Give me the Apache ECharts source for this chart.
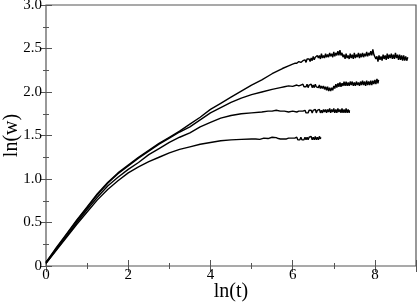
<!DOCTYPE html>
<html>
<head>
<meta charset="utf-8">
<script src="https://cdn.jsdelivr.net/npm/echarts@6/dist/echarts.min.js"></script>
<style>html,body{margin:0;padding:0;background:#fff}#c{width:418px;height:304px}</style>
</head>
<body>
<div id="c"></div>
<script>
// x = ln(t), y = ln(w)
const xTicks = [0, 2, 4, 6, 8];
const yTicks = [0, 0.5, 1.0, 1.5, 2.0, 2.5, 3.0];

const curveA = [
  [0,0.04],[0.25,0.21],[0.5,0.37],[0.75,0.53],[1,0.68],[1.25,0.83],[1.5,0.96],[1.75,1.07],
  [2,1.16],[2.25,1.25],[2.5,1.33],[2.75,1.41],[3,1.48],[3.25,1.55],[3.5,1.63],[3.75,1.71],
  [4,1.8],[4.25,1.87],[4.5,1.94],[4.75,2.01],[5,2.08],[5.25,2.14],[5.5,2.21],[5.75,2.27],
  [5.9,2.3],[6.0,2.32],[6.05,2.33],[6.1,2.33],[6.15,2.35],[6.2,2.34],[6.25,2.36],
  [6.300,2.37],[6.325,2.34],[6.350,2.38],[6.375,2.36],[6.400,2.38],[6.425,2.35],[6.450,2.39],[6.475,2.36],
  [6.500,2.41],[6.525,2.37],[6.550,2.40],[6.575,2.38],[6.600,2.42],[6.625,2.39],[6.650,2.42],[6.675,2.38],
  [6.700,2.44],[6.725,2.39],[6.750,2.42],[6.775,2.39],[6.800,2.44],[6.825,2.40],[6.850,2.43],[6.875,2.40],
  [6.900,2.45],[6.925,2.41],[6.950,2.44],[6.975,2.40],[7.000,2.46],[7.025,2.41],[7.050,2.45],[7.075,2.42],
  [7.100,2.47],[7.125,2.42],[7.150,2.48],[7.175,2.42],[7.200,2.45],[7.225,2.40],[7.250,2.43],[7.275,2.38],
  [7.300,2.44],[7.325,2.39],[7.350,2.42],[7.375,2.38],[7.400,2.44],[7.425,2.39],[7.450,2.43],[7.475,2.38],
  [7.500,2.45],[7.525,2.39],[7.550,2.43],[7.575,2.40],[7.600,2.45],[7.625,2.39],[7.650,2.44],[7.675,2.40],
  [7.700,2.45],[7.725,2.40],[7.750,2.44],[7.775,2.41],[7.800,2.46],[7.825,2.41],[7.850,2.45],[7.875,2.42],
  [7.900,2.47],[7.925,2.42],[7.950,2.49],[7.975,2.43],[8.000,2.45],[8.025,2.38],[8.050,2.41],[8.075,2.35],
  [8.100,2.42],[8.125,2.37],[8.150,2.41],[8.175,2.36],[8.200,2.43],[8.225,2.38],[8.250,2.42],[8.275,2.37],
  [8.300,2.44],[8.325,2.38],[8.350,2.43],[8.375,2.39],[8.400,2.44],[8.425,2.38],[8.450,2.43],[8.475,2.38],
  [8.500,2.45],[8.525,2.39],[8.550,2.43],[8.575,2.37],[8.600,2.43],[8.625,2.37],[8.650,2.42],[8.675,2.36],
  [8.700,2.42],[8.725,2.36],[8.750,2.41],[8.775,2.36],[8.800,2.40]
];

const curveB = [
  [0,0.04],[0.25,0.2],[0.5,0.36],[0.75,0.52],[1,0.67],[1.25,0.82],[1.5,0.95],[1.75,1.06],
  [2,1.15],[2.25,1.24],[2.5,1.32],[2.75,1.4],[3,1.47],[3.25,1.54],[3.5,1.6],[3.75,1.68],
  [4,1.76],[4.25,1.82],[4.5,1.88],[4.75,1.93],[5,1.97],[5.25,2.0],[5.5,2.03],[5.7,2.05],
  [5.8,2.06],[5.9,2.07],[6.0,2.065],[6.1,2.08],[6.15,2.07],
  [6.200,2.08],[6.225,2.06],[6.250,2.09],[6.275,2.06],[6.300,2.08],[6.325,2.06],[6.350,2.09],[6.375,2.05],
  [6.400,2.08],[6.425,2.06],[6.450,2.09],[6.475,2.05],[6.500,2.08],[6.525,2.05],[6.550,2.09],[6.575,2.06],
  [6.600,2.08],[6.625,2.05],[6.650,2.08],[6.675,2.04],[6.700,2.07],[6.725,2.04],[6.750,2.07],[6.775,2.03],
  [6.800,2.06],[6.825,2.02],[6.850,2.06],[6.875,2.01],[6.900,2.05],[6.925,2.01],[6.950,2.05],[6.975,2.02],
  [7.000,2.07],[7.025,2.04],[7.050,2.09],[7.075,2.05],[7.100,2.10],[7.125,2.06],[7.150,2.11],[7.175,2.06],
  [7.200,2.10],[7.225,2.07],[7.250,2.12],[7.275,2.07],[7.300,2.12],[7.325,2.07],[7.350,2.11],[7.375,2.07],
  [7.400,2.12],[7.425,2.08],[7.450,2.12],[7.475,2.07],[7.500,2.11],[7.525,2.07],[7.550,2.12],[7.575,2.08],
  [7.600,2.11],[7.625,2.07],[7.650,2.12],[7.675,2.08],[7.700,2.13],[7.725,2.08],[7.750,2.12],[7.775,2.07],
  [7.800,2.13],[7.825,2.08],[7.850,2.12],[7.875,2.08],[7.900,2.13],[7.925,2.08],[7.950,2.13],[7.975,2.09],
  [8.000,2.14],[8.025,2.09],[8.050,2.15],[8.075,2.10],[8.090,2.14]
];

const curveC = [
  [0,0.03],[0.25,0.19],[0.5,0.34],[0.75,0.5],[1,0.65],[1.25,0.79],[1.5,0.92],[1.75,1.02],
  [2,1.11],[2.25,1.19],[2.5,1.28],[2.75,1.35],[3,1.42],[3.25,1.48],[3.5,1.53],[3.75,1.6],
  [4,1.65],[4.25,1.7],[4.5,1.73],[4.75,1.75],[5,1.76],[5.25,1.77],[5.4,1.78],
  [5.5,1.78],[5.6,1.79],[5.7,1.78],[5.8,1.78],[5.9,1.77],[6.0,1.78],[6.1,1.77],[6.15,1.78],
  [6.200,1.78],[6.225,1.76],[6.250,1.78],[6.275,1.77],[6.300,1.79],[6.325,1.76],[6.350,1.78],[6.375,1.76],
  [6.400,1.79],[6.425,1.77],[6.450,1.79],[6.475,1.76],[6.500,1.79],[6.525,1.77],[6.550,1.80],[6.575,1.76],
  [6.600,1.79],[6.625,1.77],[6.650,1.80],[6.675,1.76],[6.700,1.79],[6.725,1.76],[6.750,1.80],[6.775,1.77],
  [6.800,1.80],[6.825,1.76],[6.850,1.80],[6.875,1.77],[6.900,1.81],[6.925,1.76],[6.950,1.80],[6.975,1.77],
  [7.000,1.81],[7.025,1.76],[7.050,1.80],[7.075,1.76],[7.100,1.81],[7.125,1.77],[7.150,1.80],[7.175,1.76],
  [7.200,1.81],[7.225,1.76],[7.250,1.80],[7.275,1.76],[7.300,1.81],[7.325,1.76],[7.350,1.80],[7.375,1.76],
  [7.380,1.79]
];

const curveD = [
  [0,0.03],[0.25,0.18],[0.5,0.33],[0.75,0.48],[1,0.62],[1.25,0.76],[1.5,0.88],[1.75,0.98],
  [2,1.07],[2.25,1.14],[2.5,1.2],[2.75,1.25],[3,1.3],[3.25,1.34],[3.5,1.37],[3.75,1.4],
  [4,1.42],[4.25,1.44],[4.5,1.45],[4.75,1.455],
  [5.0,1.46],[5.1,1.46],[5.2,1.455],[5.3,1.47],[5.4,1.465],[5.5,1.48],[5.6,1.475],[5.65,1.465],
  [5.700,1.46],[5.725,1.44],[5.750,1.46],[5.775,1.44],[5.800,1.46],[5.825,1.44],[5.850,1.46],[5.875,1.45],
  [5.900,1.47],[5.925,1.45],[5.950,1.47],[5.975,1.45],[6.000,1.47],[6.025,1.45],[6.050,1.47],[6.075,1.45],
  [6.100,1.48],[6.125,1.45],[6.150,1.47],[6.175,1.45],[6.200,1.48],[6.225,1.45],[6.250,1.47],[6.275,1.45],
  [6.300,1.48],[6.325,1.45],[6.350,1.48],[6.375,1.45],[6.400,1.48],[6.425,1.46],[6.450,1.49],[6.475,1.45],
  [6.500,1.48],[6.525,1.45],[6.550,1.49],[6.575,1.45],[6.600,1.48],[6.625,1.45],[6.650,1.49],[6.675,1.46],
  [6.680,1.48]
];

const curves = [curveA, curveB, curveC, curveD];

const FONT = '"Liberation Serif", "DejaVu Serif", serif';
const AX = '#555';

function baseAxis(extra) {
  return Object.assign({
    type: 'value',
    axisLine: { show: false },
    splitLine: { show: false },
    axisTick: { show: true, inside: true, length: 6, lineStyle: { color: AX, width: 1 } },
    minorTick: { show: true, splitNumber: 2, length: 3, lineStyle: { color: AX, width: 1 } }
  }, extra);
}

const chart = echarts.init(document.getElementById('c'), null, { renderer: 'canvas' });
chart.setOption({
  animation: false,
  backgroundColor: '#fff',
  grid: { left: 46, right: 2, top: 5, bottom: 38, outerBoundsMode: 'none', containLabel: false,
    show: true, borderColor: AX, borderWidth: 1.2, backgroundColor: 'transparent' },
  xAxis: [
    baseAxis({
      min: 0, max: 9, interval: 2, position: 'bottom',
      name: 'ln(t)', nameLocation: 'middle', nameGap: 16, nameMoveOverlap: false,
      nameTextStyle: { fontFamily: FONT, fontSize: 20, color: '#000' },
      axisLabel: { show: true, margin: 2, fontFamily: FONT, fontSize: 15, color: '#000',
        formatter: v => (xTicks.indexOf(v) >= 0 ? String(v) : '') }
    }),
    baseAxis({ min: 0, max: 9, interval: 2, position: 'top', axisLabel: { show: false } })
  ],
  yAxis: [
    baseAxis({
      min: 0, max: 3, interval: 0.5, position: 'left',
      name: 'ln(w)', nameLocation: 'middle', nameGap: 24, nameRotate: 90, nameMoveOverlap: false,
      nameTextStyle: { fontFamily: FONT, fontSize: 20, color: '#000' },
      axisLabel: { show: true, margin: 4, fontFamily: FONT, fontSize: 15, color: '#000',
        formatter: v => (v === 0 ? '0' : yTicks.find(t => Math.abs(t - v) < 1e-9).toFixed(1)) }
    }),
    baseAxis({ min: 0, max: 3, interval: 0.5, position: 'right', axisLabel: { show: false } })
  ],
  series: curves.map(c => ({
    type: 'line',
    data: c,
    showSymbol: false,
    symbol: 'none',
    lineStyle: { color: '#000', width: 1.4 },
    xAxisIndex: 0,
    yAxisIndex: 0,
    silent: true
  }))
});
</script>
</body>
</html>
